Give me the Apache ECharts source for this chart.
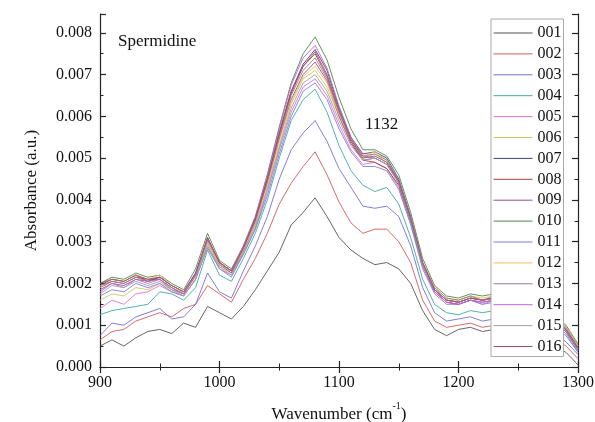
<!DOCTYPE html>
<html>
<head>
<meta charset="utf-8">
<script src="https://cdn.jsdelivr.net/npm/echarts@6/dist/echarts.min.js"></script>
<style>
html,body{margin:0;padding:0;background:#fff;}
#chart{width:595px;height:422px;}
</style>
</head>
<body>
<div id="chart"></div>
<script>
// Wavenumber (cm-1)
const wavenumber = [900,910,920,930,940,950,960,970,980,990,1000,1010,1020,1030,1040,1050,1060,1070,1080,1090,1100,1110,1120,1130,1140,1150,1160,1170,1180,1190,1200,1210,1220,1230,1240,1250,1260,1270,1280,1290,1300];
const seriesNames = ['001','002','003','004','005','006','007','008','009','010','011','012','013','014','015','016'];
// Absorbance values in units of 1e-3 a.u.
const s001 = [0.5,0.65,0.5,0.7,0.85,0.9,0.8,1.05,0.95,1.45,1.3,1.15,1.45,1.85,2.3,2.75,3.4,3.7,4.05,3.6,3.1,2.8,2.6,2.45,2.5,2.35,2.0,1.35,0.9,0.75,0.9,0.95,0.85,0.9,0.85,0.8,0.75,0.7,0.5,0.35,0.05];
const s002 = [0.65,0.85,0.9,1.1,1.2,1.3,1.2,1.4,1.5,1.95,1.75,1.55,2.1,2.6,3.2,3.9,4.4,4.8,5.15,4.6,3.95,3.45,3.2,3.3,3.3,3.0,2.5,1.6,1.1,0.95,1.0,1.05,0.95,1.0,0.95,0.9,0.85,0.8,0.7,0.5,0.2];
const s003 = [0.75,1.05,1.0,1.2,1.3,1.4,1.15,1.2,1.5,2.25,1.8,1.65,2.3,2.9,3.6,4.5,5.2,5.6,5.9,5.4,4.75,4.3,3.85,3.8,3.85,3.6,2.9,1.9,1.3,1.1,1.15,1.2,1.1,1.15,1.1,1.05,1.0,0.95,0.85,0.6,0.3];
const s004 = [1.25,1.35,1.4,1.45,1.5,1.8,1.75,1.6,1.9,2.8,2.2,2.05,2.6,3.2,4.0,5.0,5.9,6.4,6.65,6.1,5.3,4.7,4.35,4.2,4.3,3.9,3.1,2.1,1.5,1.3,1.25,1.35,1.3,1.35,1.3,1.25,1.2,1.1,0.95,0.75,0.35];
const s005 = [1.4,1.6,1.5,1.75,1.8,1.95,1.8,1.7,2.1,2.9,2.35,2.2,2.7,3.3,4.2,5.2,6.1,6.7,6.9,6.5,5.8,5.2,4.85,4.9,4.75,4.3,3.45,2.4,1.8,1.55,1.5,1.6,1.5,1.6,1.5,1.5,1.4,1.3,1.05,0.85,0.45];
const s006 = [1.6,1.75,1.7,1.9,1.85,2.0,1.85,1.75,2.15,2.95,2.4,2.25,2.75,3.4,4.3,5.3,6.3,6.9,7.1,6.7,6.0,5.4,5.0,5.1,4.9,4.4,3.5,2.5,1.85,1.6,1.6,1.7,1.6,1.65,1.6,1.55,1.5,1.4,1.1,0.9,0.5];
const s007 = [1.95,2.1,2.05,2.2,2.05,2.15,1.95,1.8,2.25,3.05,2.5,2.3,2.85,3.55,4.5,5.6,6.6,7.25,7.6,7.1,6.2,5.5,5.1,5.15,5.0,4.5,3.6,2.5,1.85,1.6,1.55,1.65,1.6,1.65,1.6,1.55,1.5,1.4,1.15,0.95,0.5];
const s008 = [1.9,2.05,2.0,2.15,2.1,2.1,1.9,1.75,2.2,3.1,2.45,2.3,2.8,3.5,4.45,5.55,6.55,7.2,7.5,6.95,6.1,5.4,4.95,4.9,4.75,4.35,3.5,2.45,1.8,1.55,1.5,1.6,1.55,1.6,1.55,1.5,1.45,1.35,1.1,0.85,0.4];
const s009 = [1.85,2.0,1.95,2.1,2.05,2.15,1.95,1.8,2.2,3.0,2.45,2.25,2.8,3.45,4.4,5.45,6.4,7.0,7.3,6.85,6.0,5.35,4.95,5.0,4.85,4.4,3.5,2.45,1.85,1.6,1.55,1.65,1.6,1.65,1.6,1.55,1.5,1.4,1.1,0.9,0.45];
const s010 = [2.0,2.15,2.1,2.25,2.15,2.2,2.0,1.85,2.35,3.2,2.55,2.35,2.9,3.6,4.6,5.75,6.8,7.5,7.9,7.35,6.45,5.7,5.2,5.2,5.05,4.6,3.7,2.6,1.95,1.7,1.65,1.75,1.7,1.75,1.7,1.65,1.6,1.5,1.2,1.0,0.55];
const s011 = [1.7,1.85,1.8,2.0,1.9,2.0,1.8,1.7,2.1,2.85,2.35,2.15,2.7,3.3,4.1,5.1,6.0,6.6,6.8,6.4,5.7,5.15,4.8,4.8,4.7,4.25,3.4,2.35,1.75,1.5,1.5,1.6,1.5,1.55,1.5,1.45,1.4,1.3,1.0,0.8,0.35];
const s012 = [1.9,2.1,2.05,2.2,2.1,2.2,1.95,1.8,2.2,3.0,2.45,2.3,2.8,3.45,4.35,5.4,6.35,6.95,7.2,6.8,6.05,5.45,5.05,5.15,4.95,4.45,3.55,2.5,1.9,1.65,1.6,1.7,1.65,1.7,1.65,1.6,1.55,1.45,1.15,0.95,0.5];
const s013 = [1.95,2.05,2.0,2.15,2.05,2.1,1.9,1.75,2.2,3.05,2.5,2.3,2.85,3.5,4.45,5.5,6.5,7.1,7.4,6.9,6.1,5.45,5.05,5.1,4.95,4.45,3.55,2.5,1.9,1.65,1.6,1.7,1.6,1.7,1.6,1.6,1.5,1.4,1.15,0.9,0.45];
const s014 = [1.8,2.0,1.9,2.1,2.0,2.1,1.85,1.75,2.2,3.05,2.5,2.3,2.9,3.6,4.6,5.7,6.75,7.4,7.7,7.15,6.25,5.5,5.05,5.0,4.85,4.45,3.55,2.45,1.8,1.55,1.5,1.6,1.55,1.6,1.55,1.5,1.45,1.35,1.05,0.85,0.4];
const s015 = [1.75,1.95,1.9,2.05,1.95,2.05,1.85,1.7,2.1,2.9,2.4,2.2,2.75,3.35,4.25,5.25,6.2,6.8,7.0,6.6,5.9,5.3,4.95,5.0,4.85,4.4,3.5,2.45,1.85,1.6,1.55,1.65,1.6,1.65,1.6,1.55,1.5,1.4,1.1,0.9,0.45];
const s016 = [2.0,2.1,2.05,2.2,2.1,2.15,1.95,1.8,2.25,3.1,2.5,2.3,2.85,3.55,4.5,5.6,6.6,7.2,7.55,7.0,6.15,5.45,5.0,5.05,4.9,4.45,3.55,2.5,1.85,1.6,1.55,1.65,1.6,1.65,1.6,1.55,1.5,1.4,1.15,0.9,0.45];
const seriesValues = [s001,s002,s003,s004,s005,s006,s007,s008,s009,s010,s011,s012,s013,s014,s015,s016];
const colors = ['#555555','#d45a5a','#7070d8','#40a8a8','#e070d0','#c8c860','#404080','#a04040','#905090','#4a8a4a','#8080e0','#f0c060','#a07890','#c060e0','#a0a0a0','#a05060'];

const FONT = '"Liberation Serif","Times New Roman",serif';
const chart = echarts.init(document.getElementById('chart'), null, {renderer:'canvas'});

const series = seriesNames.map((name, k) => ({
  name: name,
  type: 'line',
  symbol: 'none',
  smooth: false,
  animation: false,
  color: colors[k],
  lineStyle: {width: 0.9, color: colors[k]},
  data: wavenumber.map((x, i) => [x, seriesValues[k][i]])
}));

const axisLineStyle = {show: true, lineStyle: {color: '#222', width: 1.2}};
const tickStyle = {show: true, inside: true, length: 6, lineStyle: {color: '#222', width: 1.2}};
const minorStyle = {show: true, splitNumber: 2, length: 3.5, lineStyle: {color: '#222', width: 1}};

chart.setOption({
  backgroundColor: '#fff',
  animation: false,
  grid: {left: 100, right: 17, top: 14, bottom: 55, containLabel: false, outerBoundsMode: 'none'},
  legend: {
    orient: 'vertical',
    left: 491, top: 19,
    padding: [6, 2, 2, 2],
    itemWidth: 39, itemHeight: 14, itemGap: 4.9,
    itemStyle: {opacity: 0},
    lineStyle: {width: 1},
    backgroundColor: '#fff',
    borderColor: '#aaa', borderWidth: 1,
    textStyle: {fontFamily: FONT, fontSize: 16, color: '#111'},
    data: seriesNames
  },
  xAxis: [{
    type: 'value', min: 900, max: 1300, interval: 100, position: 'bottom',
    name: '{a|Wavenumber (cm}{s|-1}{a|)}',
    nameLocation: 'middle', nameGap: 34,
    nameTextStyle: {rich: {
      a: {fontFamily: FONT, fontSize: 17, color: '#111', lineHeight: 22, verticalAlign: 'bottom'},
      s: {fontFamily: FONT, fontSize: 10, color: '#111', lineHeight: 22, verticalAlign: 'top'}
    }},
    axisLine: axisLineStyle, axisTick: tickStyle, minorTick: minorStyle,
    splitLine: {show: false},
    axisLabel: {fontFamily: FONT, fontSize: 16, color: '#111', margin: 8, formatter: v => String(v)}
  }, {
    type: 'value', min: 900, max: 1300, interval: 100, position: 'top',
    axisLine: axisLineStyle, axisTick: tickStyle, minorTick: minorStyle,
    splitLine: {show: false}, axisLabel: {show: false}
  }],
  yAxis: [{
    type: 'value', min: 0, max: 8.45, interval: 1, position: 'left',
    name: 'Absorbance (a.u.)', nameLocation: 'middle', nameGap: 60, nameRotate: 90,
    nameTextStyle: {fontFamily: FONT, fontSize: 17, color: '#111'},
    axisLine: axisLineStyle, axisTick: tickStyle, minorTick: minorStyle,
    splitLine: {show: false},
    axisLabel: {fontFamily: FONT, fontSize: 16, color: '#111', margin: 8, showMaxLabel: false,
      formatter: v => (v / 1000).toFixed(3)}
  }, {
    type: 'value', min: 0, max: 8.45, interval: 1, position: 'right',
    axisLine: axisLineStyle, axisTick: tickStyle, minorTick: minorStyle,
    splitLine: {show: false}, axisLabel: {show: false}
  }],
  graphic: [
    {type: 'text', left: 118, top: 33, style: {text: 'Spermidine', fontFamily: FONT, fontSize: 17, fill: '#111'}},
    {type: 'text', left: 365, top: 116, style: {text: '1132', fontFamily: FONT, fontSize: 17, fill: '#111'}}
  ],
  series: series
});
</script>
</body>
</html>
